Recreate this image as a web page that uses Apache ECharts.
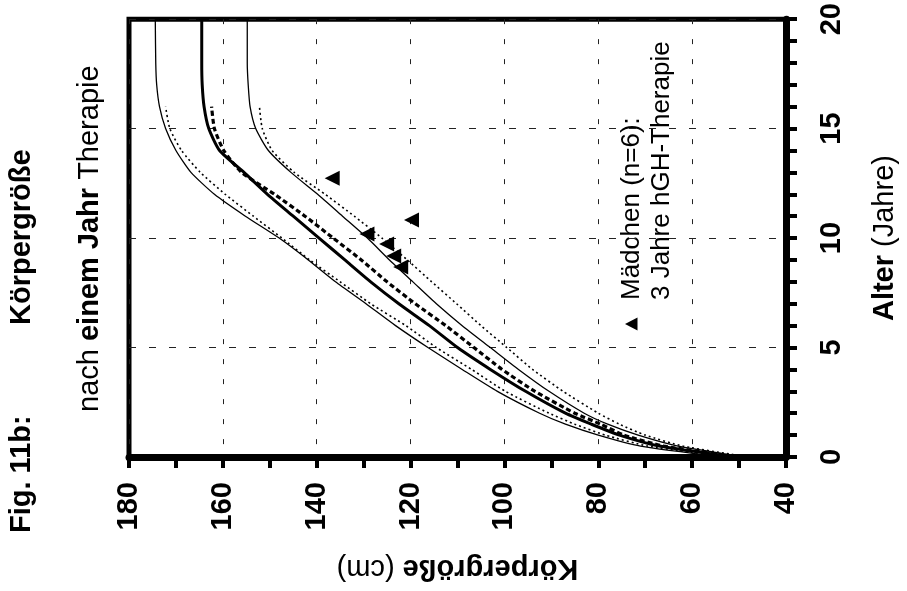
<!DOCTYPE html>
<html><head><meta charset="utf-8">
<script src="https://cdn.jsdelivr.net/npm/echarts@6/dist/echarts.min.js"></script>
<style>html,body{margin:0;padding:0;background:#fff}#c{width:907px;height:591px}</style>
</head><body><div id="c"></div>
<script>
// Ages (Jahre) for the curves ending at 20 years
const agesLong = [0,0.5,1,1.5,2,3,4,5,6,7,8,9,10,11,12,13,14,15,16,17,18,20];
const p97Solid = [53.5,71,80,87,92.5,101.5,109,116.3,123.2,129.5,136,141.8,148,155.2,161.8,166.8,170,172.2,173.5,174.1,174.3,174.4];
const p50Solid = [51,67,75.5,81.5,87,95.5,103,110,116,122.5,128.5,134,139.5,145,150.5,155.5,160.7,163,164,164.4,164.5,164.5];
const p3Solid  = [48.5,63,71.5,78,83,90.5,97,103,109,114.5,119.5,124.5,129.2,134.5,139.8,145.5,150.3,153,154.2,154.6,154.8,154.8];
// Ages for the reference curves ending at 16 years
const agesShort = [0,0.5,1,1.5,2,3,4,5,6,7,8,9,10,11,12,13,14,15,16];
const p97Dotted = [52.5,69.5,78.5,85,90.5,99.8,107,114.5,121,128.5,135,141.5,147.4,153.5,159.5,164.8,168.8,171.3,172.2];
const p50Dashed = [50,66,74.5,79.5,85,93.5,100.5,106.5,112.5,119,125,130.5,136.5,142.5,149,156,159.8,161.8,162.4];
const p3Dotted  = [48,62,70,75.5,80,87.5,94,99.5,105,110.2,115.5,120.7,126.1,132,138.2,144.8,149.5,151.6,152.2];
// Girls (n=6) after therapy
const girlsHeight = [136.7,119.8,129.3,125.1,123.6,122.1];
const girlsAge    = [12.73,10.82,10.18,9.73,9.18,8.68];
// Axis ticks
const heightTicks = [40,60,80,100,120,140,160,180];
const ageTicks = [0,5,10,15,20];

const F = '"Liberation Sans", Arial, Helvetica, sans-serif';
function pts(cms, ages){ return ages.map((a,i)=>[cms[i], a]); }
function lineSeries(name, cms, ages, width, type){
  return {name:name, type:'line', data:pts(cms, ages), symbol:'none', smooth:0.2,
    lineStyle:{color:'#000', width:width, type:type, opacity:1}, z:3};
}
const chart = echarts.init(document.getElementById('c'));
chart.setOption({
  animation:false,
  backgroundColor:'#fff',
  grid:{left:129,right:118,top:17,bottom:134,show:true,borderColor:'#000',borderWidth:5,backgroundColor:'transparent'},
  xAxis:{type:'value',min:heightTicks[0],max:heightTicks[heightTicks.length-1],interval:20,inverse:true,position:'bottom',
    axisLine:{onZero:false,lineStyle:{color:'#000',width:7}},
    axisTick:{show:true,length:11,lineStyle:{color:'#000',width:4}},
    minorTick:{show:true,splitNumber:2,length:11,lineStyle:{color:'#000',width:4}},
    axisLabel:{rotate:90,margin:25,fontFamily:F,fontSize:29,fontWeight:'bold',color:'#000'},
    splitLine:{show:true,lineStyle:{color:'#222',width:1,type:[5,15]}},
    name:'{b|Körpergröße} (cm)',nameLocation:'middle',nameGap:96,nameRotate:180,
    nameTextStyle:{fontFamily:F,fontSize:29,color:'#000',
      rich:{b:{fontFamily:F,fontSize:29,fontWeight:'bold',color:'#000'}}}
  },
  yAxis:{type:'value',min:ageTicks[0],max:ageTicks[ageTicks.length-1],interval:5,position:'right',
    axisLine:{onZero:false,lineStyle:{color:'#000',width:7}},
    axisTick:{show:true,length:11,lineStyle:{color:'#000',width:4}},
    minorTick:{show:true,splitNumber:5,length:11,lineStyle:{color:'#000',width:4}},
    axisLabel:{rotate:90,margin:31,fontFamily:F,fontSize:29,fontWeight:'bold',color:'#000'},
    splitLine:{show:true,lineStyle:{color:'#222',width:1,type:[7,13]}},
    name:'{b|Alter} (Jahre)',nameLocation:'middle',nameGap:84,nameRotate:90,
    nameTextStyle:{fontFamily:F,fontSize:29,color:'#000',
      rich:{b:{fontFamily:F,fontSize:29,fontWeight:'bold',color:'#000'}}}
  },
  series:[
    lineSeries('P97', p97Solid, agesLong, 1.3, 'solid'),
    lineSeries('P50', p50Solid, agesLong, 3, 'solid'),
    lineSeries('P3', p3Solid, agesLong, 1.3, 'solid'),
    lineSeries('P97 Ref', p97Dotted, agesShort, 1.6, [2,3]),
    lineSeries('P50 Ref', p50Dashed, agesShort, 3.2, [5,3]),
    lineSeries('P3 Ref', p3Dotted, agesShort, 1.6, [2,3]),
    {name:'Mädchen (n=6)', type:'scatter', data:pts(girlsHeight, girlsAge), symbol:'triangle', symbolRotate:90,
     symbolSize:15, itemStyle:{color:'#000', opacity:1}, z:5}
  ],
  graphic:[
    {type:'text', x:22, y:533, rotation:Math.PI/2,
     style:{text:'Fig. 11b:', fontFamily:F, fontSize:29, fontWeight:'bold', fill:'#000', align:'left', verticalAlign:'middle'}},
    {type:'text', x:22, y:325, rotation:Math.PI/2,
     style:{text:'Körpergröße', fontFamily:F, fontSize:29, fontWeight:'bold', fill:'#000', align:'left', verticalAlign:'middle'}},
    {type:'text', x:90, y:412, rotation:Math.PI/2,
     style:{text:'nach {b|einem Jahr} Therapie', fontFamily:F, fontSize:29, fill:'#000', align:'left', verticalAlign:'middle',
       rich:{b:{fontFamily:F, fontSize:29, fontWeight:'bold', fill:'#000'}}}},
    {type:'group', x:632, y:324, rotation:Math.PI/2, children:[
      {type:'polygon', shape:{points:[[-6.5,5.5],[6.5,5.5],[0,-7]]}, style:{fill:'#000'}},
      {type:'text', x:24, y:0, style:{text:'Mädchen (n=6):', fontFamily:F, fontSize:26, fill:'#000', align:'left', verticalAlign:'middle'}},
      {type:'text', x:24, y:30, style:{text:'3 Jahre hGH-Therapie', fontFamily:F, fontSize:26, fill:'#000', align:'left', verticalAlign:'middle'}}
    ]}
  ]
});
</script></body></html>
